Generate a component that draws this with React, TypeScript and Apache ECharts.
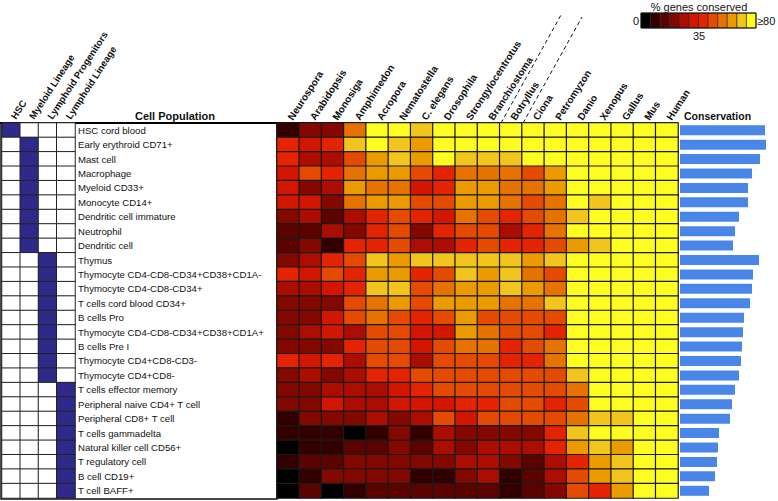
import React, { useEffect, useRef } from "react";
import * as echarts from "echarts";

const species = ["Neurospora", "Arabidopsis", "Monosiga", "Amphimedon", "Acropora", "Nematostella", "C. elegans", "Drosophila", "Strongylocentrotus", "Branchiostoma", "Botryllus", "Ciona", "Petromyzon", "Danio", "Xenopus", "Gallus", "Mus", "Human"];

const cellPopulations = ["HSC cord blood", "Early erythroid CD71+", "Mast cell", "Macrophage", "Myeloid CD33+", "Monocyte CD14+", "Dendritic cell immature", "Neutrophil", "Dendritic cell", "Thymus", "Thymocyte CD4-CD8-CD34+CD38+CD1A-", "Thymocyte CD4-CD8-CD34+", "T cells cord blood CD34+", "B cells Pro", "Thymocyte CD4-CD8-CD34+CD38+CD1A+", "B cells Pre I", "Thymocyte CD4+CD8-CD3-", "Thymocyte CD4+CD8-", "T cells effector memory", "Peripheral naive CD4+ T cell", "Peripheral CD8+ T cell", "T cells gammadelta", "Natural killer cell CD56+", "T regulatory cell", "B cell CD19+", "T cell BAFF+"];

const lineageNames = ["HSC", "Myeloid Lineage", "Lymphoid Progenitors", "Lymphoid Lineage"];
const lineageOfRow = [0, 1, 1, 1, 1, 1, 1, 1, 1, 2, 2, 2, 2, 2, 2, 2, 2, 2, 3, 3, 3, 3, 3, 3, 3, 3];

// % genes conserved, rows = cell populations, columns = species
const conserved = [
  [10, 24, 24, 59, 88, 88, 75, 88, 88, 88, 88, 88, 88, 88, 88, 88, 88, 88],
  [45, 38, 45, 75, 88, 75, 67, 88, 88, 88, 88, 88, 88, 88, 88, 88, 88, 88],
  [45, 31, 31, 52, 67, 75, 67, 88, 75, 75, 75, 88, 88, 88, 88, 88, 88, 88],
  [38, 52, 45, 59, 67, 67, 52, 45, 59, 59, 59, 52, 67, 88, 88, 88, 88, 88],
  [38, 24, 31, 67, 59, 59, 38, 45, 67, 67, 59, 59, 67, 88, 88, 88, 88, 88],
  [38, 38, 24, 59, 67, 67, 52, 52, 67, 67, 59, 52, 59, 88, 75, 88, 88, 88],
  [24, 31, 17, 31, 45, 52, 45, 38, 59, 52, 45, 52, 59, 75, 88, 88, 88, 88],
  [17, 17, 31, 24, 45, 52, 24, 45, 52, 52, 31, 45, 59, 88, 88, 88, 88, 88],
  [17, 24, 10, 45, 45, 52, 31, 31, 45, 52, 45, 45, 52, 67, 75, 88, 88, 88],
  [24, 31, 45, 52, 75, 67, 75, 75, 75, 75, 75, 67, 75, 88, 88, 88, 88, 88],
  [45, 38, 52, 45, 67, 67, 45, 52, 75, 67, 75, 59, 52, 88, 88, 88, 88, 88],
  [31, 31, 38, 45, 75, 75, 52, 59, 67, 67, 75, 67, 59, 88, 88, 88, 88, 88],
  [24, 24, 24, 52, 59, 67, 52, 67, 67, 67, 59, 59, 75, 88, 88, 88, 88, 88],
  [24, 24, 38, 52, 59, 52, 45, 52, 67, 52, 52, 52, 52, 88, 88, 88, 88, 88],
  [24, 31, 38, 31, 52, 52, 38, 38, 67, 59, 52, 52, 45, 88, 88, 88, 88, 88],
  [24, 24, 24, 45, 52, 52, 38, 52, 59, 59, 45, 52, 59, 88, 88, 88, 88, 88],
  [45, 38, 45, 31, 52, 52, 31, 52, 52, 52, 45, 45, 59, 88, 88, 88, 88, 88],
  [24, 31, 24, 31, 45, 45, 52, 52, 52, 52, 52, 52, 52, 75, 88, 88, 88, 88],
  [24, 24, 31, 31, 31, 38, 45, 52, 52, 52, 52, 52, 52, 59, 88, 88, 88, 88],
  [24, 24, 38, 31, 31, 38, 38, 38, 45, 45, 52, 52, 45, 52, 88, 88, 88, 88],
  [10, 24, 24, 24, 31, 24, 31, 52, 38, 52, 52, 52, 52, 59, 75, 75, 88, 88],
  [10, 10, 10, 3, 10, 24, 10, 31, 24, 24, 24, 24, 45, 75, 88, 88, 88, 88],
  [3, 10, 10, 17, 17, 24, 17, 31, 24, 31, 31, 31, 45, 67, 75, 67, 88, 88],
  [10, 17, 17, 24, 24, 24, 24, 24, 31, 31, 24, 17, 31, 45, 67, 75, 88, 88],
  [3, 10, 24, 24, 24, 24, 10, 10, 24, 31, 10, 17, 31, 52, 67, 75, 88, 88],
  [3, 17, 3, 10, 17, 17, 17, 17, 17, 17, 10, 17, 24, 52, 45, 67, 88, 88],
];

const conservation = [85, 86, 80, 72, 68, 68, 59, 55, 53, 79, 73, 72, 70, 64, 63, 62, 61, 59, 55, 52, 50, 39, 38, 37, 35, 29];

const binEdges = [0, 7, 14, 21, 28, 35, 42, 49, 56, 63, 71, 80];
const binColors = ["#000000", "#330000", "#5a0300", "#820800", "#ab0d00", "#d21600", "#e42400", "#e54b00", "#e67300", "#eb9a00", "#f2c41e", "#fdfd22"];
const legendTicks = ["0", "35", "\u226580"];

const FONT = "'Liberation Sans', Arial, Helvetica, sans-serif";
const LABEL_ANGLE = 57;

export default function App() {
  const ref = useRef<HTMLDivElement>(null);
  useEffect(() => {
    if (!ref.current) return;
    const chart = echarts.init(ref.current, undefined, { renderer: "svg" });

    const heatData: number[][] = [];
    conserved.forEach((row, r) => row.forEach((v, c) => heatData.push([c, r, v])));
    const lineageData: number[][] = [];
    lineageOfRow.forEach((l, r) => {
      for (let c = 0; c < lineageNames.length; c++) lineageData.push([c, r, c === l ? 1 : 0]);
    });

    const pieces = binEdges.map((e, i) =>
      i < binEdges.length - 1 ? { gte: e, lt: binEdges[i + 1], color: binColors[i] } : { gte: e, color: binColors[i] }
    );

    chart.setOption({
      animation: false,
      textStyle: { fontFamily: FONT },
      grid: [
        { left: 277, top: 123, width: 401, height: 375, outerBoundsMode: "none", containLabel: false },
        { left: 2, top: 123, width: 73, height: 375, outerBoundsMode: "none", containLabel: false },
        { left: 680, top: 123, width: 90, height: 375, outerBoundsMode: "none", containLabel: false },
      ],
      xAxis: [
        { gridIndex: 0, type: "category", data: species, position: "top", axisLine: { show: false }, axisTick: { show: false }, axisLabel: { show: false }, splitLine: { show: false } },
        { gridIndex: 1, type: "category", data: lineageNames, position: "top", axisLine: { show: false }, axisTick: { show: false }, axisLabel: { show: false }, splitLine: { show: false } },
        { gridIndex: 2, type: "value", min: 0, max: 90, show: false },
      ],
      yAxis: [
        { gridIndex: 0, type: "category", data: cellPopulations, inverse: true, show: false },
        {
          gridIndex: 1, type: "category", data: cellPopulations, inverse: true, position: "right",
          axisLine: { show: false }, axisTick: { show: false },
          axisLabel: { margin: 3, fontSize: 9.6, color: "#111", interval: 0, fontFamily: FONT },
        },
        { gridIndex: 2, type: "category", data: cellPopulations, inverse: true, show: false },
      ],
      visualMap: [
        { type: "piecewise", show: false, seriesIndex: 0, dimension: 2, pieces },
        { type: "piecewise", show: false, seriesIndex: 1, dimension: 2, pieces: [{ value: 1, color: "#2d2a8a" }, { value: 0, color: "#ffffff" }] },
      ],
      series: [
        { type: "heatmap", xAxisIndex: 0, yAxisIndex: 0, data: heatData, itemStyle: { borderColor: "#1a1a1a", borderWidth: 1.2 }, emphasis: { disabled: true } },
        { type: "heatmap", xAxisIndex: 1, yAxisIndex: 1, data: lineageData, itemStyle: { borderColor: "#222", borderWidth: 1 }, emphasis: { disabled: true } },
        { type: "bar", xAxisIndex: 2, yAxisIndex: 2, data: conservation, barWidth: 10, itemStyle: { color: "#4a86e8" } },
      ],
    });

    const rot = (LABEL_ANGLE * Math.PI) / 180;
    const rotatedLabels: any[] = [];
    species.forEach((name, i) => {
      const px = chart.convertToPixel({ xAxisIndex: 0 }, name) as number;
      rotatedLabels.push({
        type: "text", x: px + 2, y: 119, rotation: rot,
        style: { text: name, font: `bold 10px ${FONT}`, fill: "#111", textAlign: "left", textVerticalAlign: "middle" },
      });
    });
    lineageNames.forEach((name) => {
      const px = chart.convertToPixel({ xAxisIndex: 1 }, name) as number;
      rotatedLabels.push({
        type: "text", x: px + 2, y: 118, rotation: rot,
        style: { text: name, font: `bold 9.6px ${FONT}`, fill: "#111", textAlign: "left", textVerticalAlign: "middle" },
      });
    });

    const lx = 641, ly = 13, lw = 115 / binColors.length, lh = 15;
    const legendGraphics: any[] = binColors.map((col, i) => ({
      type: "rect",
      shape: { x: lx + i * lw, y: ly, width: lw, height: lh },
      style: { fill: col, stroke: "#222", lineWidth: 0.6 },
    }));
    legendGraphics.push({ type: "rect", shape: { x: lx, y: ly, width: 115, height: lh }, style: { fill: "none", stroke: "#111", lineWidth: 1 } });
    legendGraphics.push({ type: "text", x: 699, y: 1, style: { text: "% genes conserved", font: `11px ${FONT}`, fill: "#111", textAlign: "center", textVerticalAlign: "top" } });
    legendGraphics.push({ type: "text", x: 639, y: 21, style: { text: legendTicks[0], font: `11px ${FONT}`, fill: "#111", textAlign: "right", textVerticalAlign: "middle" } });
    legendGraphics.push({ type: "text", x: 699, y: 36, style: { text: legendTicks[1], font: `11px ${FONT}`, fill: "#111", textAlign: "center", textVerticalAlign: "middle" } });
    legendGraphics.push({ type: "text", x: 757, y: 21, style: { text: legendTicks[2], font: `11px ${FONT}`, fill: "#111", textAlign: "left", textVerticalAlign: "middle" } });

    chart.setOption({
      graphic: [
        { type: "rect", shape: { x: 1, y: 123, width: 276, height: 376 }, style: { fill: "none", stroke: "#111", lineWidth: 1.5 } },
        { type: "line", shape: { x1: 0, y1: 123, x2: 678, y2: 123 }, style: { stroke: "#000", lineWidth: 2 } },
        { type: "line", shape: { x1: 501, y1: 123, x2: 561, y2: 15 }, style: { stroke: "#111", lineWidth: 1, lineDash: [4, 3] } },
        { type: "line", shape: { x1: 523, y1: 123, x2: 582, y2: 17 }, style: { stroke: "#111", lineWidth: 1, lineDash: [4, 3] } },
        { type: "text", x: 175, y: 116, style: { text: "Cell Population", font: `bold 11px ${FONT}`, fill: "#111", textAlign: "center", textVerticalAlign: "middle" } },
        { type: "text", x: 684, y: 116, style: { text: "Conservation", font: `bold 10.5px ${FONT}`, fill: "#111", textAlign: "left", textVerticalAlign: "middle" } },
        ...rotatedLabels,
        ...legendGraphics,
      ],
    });
    return () => chart.dispose();
  }, []);
  return <div ref={ref} style={{ position: "fixed", left: 0, top: 0, width: 778, height: 501, background: "#fff" }} />;
}
